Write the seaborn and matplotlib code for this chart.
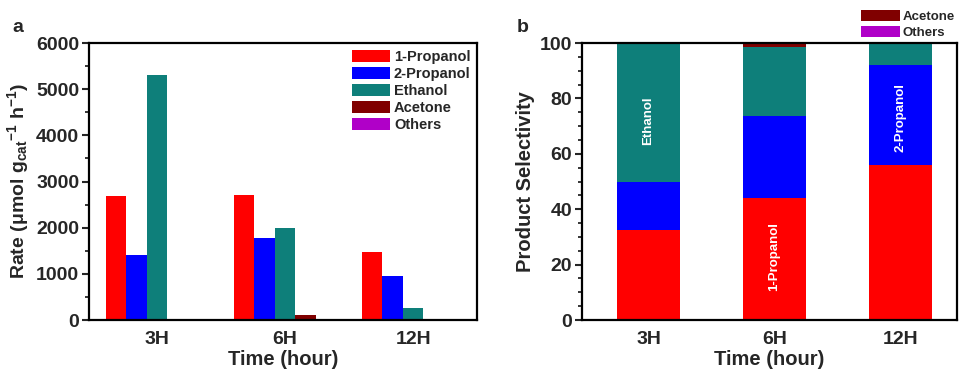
import matplotlib
matplotlib.use("Agg")
import matplotlib.pyplot as plt
import seaborn as sns
import pandas as pd
from matplotlib.ticker import MultipleLocator
from matplotlib.patches import Patch

# ---------------- data ----------------
times = ["3H", "6H", "12H"]
products = ["1-Propanol", "2-Propanol", "Ethanol", "Acetone", "Others"]
colors = ["#FF0000", "#0000FF", "#0E7F7A", "#800000", "#B000C8"]

rate_propanol1 = [2680, 2700, 1470]
rate_propanol2 = [1400, 1780, 960]
rate_ethanol = [5300, 2000, 250]
rate_acetone = [20, 100, 0]
rate_others = [0, 0, 0]

sel_propanol1 = [32.5, 44.0, 56.0]
sel_propanol2 = [17.5, 29.5, 36.0]
sel_ethanol = [50.0, 25.0, 8.0]
sel_acetone = [0.0, 1.5, 0.0]
sel_others = [0.0, 0.0, 0.0]

rates = [rate_propanol1, rate_propanol2, rate_ethanol, rate_acetone, rate_others]
sels = [sel_propanol1, sel_propanol2, sel_ethanol, sel_acetone, sel_others]

df_rate = pd.DataFrame([
    {"time": t, "product": p, "rate": v}
    for p, vals in zip(products, rates) for t, v in zip(times, vals)
])

# ---------------- style ----------------
sns.set_theme(style="ticks")
plt.rcParams["font.family"] = ["Liberation Sans", "DejaVu Sans"]
plt.rcParams["font.weight"] = "bold"
plt.rcParams["axes.labelweight"] = "bold"
plt.rcParams["mathtext.fontset"] = "custom"
plt.rcParams["mathtext.rm"] = "Liberation Sans:bold"
plt.rcParams["mathtext.it"] = "Liberation Sans:bold"
plt.rcParams["mathtext.bf"] = "Liberation Sans:bold"

fig = plt.figure(figsize=(9.6, 3.81), dpi=100)
axL = fig.add_axes([0.0927, 0.160, 0.4043, 0.727])
axR = fig.add_axes([0.606, 0.160, 0.391, 0.727])

# ---------------- panel a ----------------
sns.barplot(data=df_rate, x="time", y="rate", hue="product", order=times,
            hue_order=products, palette=colors, saturation=1, width=0.8,
            errorbar=None, ax=axL, linewidth=0)
axL.set_xlim(-0.53, 2.50)
axL.set_ylim(0, 6000)
axL.yaxis.set_major_locator(MultipleLocator(1000))
axL.yaxis.set_minor_locator(MultipleLocator(500))
axL.set_xlabel("Time (hour)", fontsize=14.5, fontweight="bold", labelpad=1)
axL.set_ylabel(r"Rate (μmol g$_{\mathbf{cat}}$$^{\mathbf{-1}}$ h$^{\mathbf{-1}}$)",
               fontsize=14, fontweight="bold", labelpad=4)
handles = [Patch(facecolor=c, edgecolor="none") for c in colors]
axL.legend(handles, products, loc="upper right", frameon=False,
           prop={"size": 10.5, "weight": "bold"}, handlelength=2.6,
           handleheight=0.9, handletextpad=0.25, labelspacing=0.2,
           borderaxespad=0.15, borderpad=0.3)

# ---------------- panel b ----------------
cum = []
running = [0.0, 0.0, 0.0]
for vals in sels:
    running = [r + v for r, v in zip(running, vals)]
    cum.append(list(running))
# draw from the top of the stack down so the lower segments stay visible
for i in range(len(products) - 1, -1, -1):
    d = pd.DataFrame({"time": times, "value": cum[i]})
    sns.barplot(data=d, x="time", y="value", order=times, color=colors[i],
                saturation=1, width=0.5, errorbar=None, ax=axR, linewidth=0)
axR.set_xlim(-0.53, 2.45)
axR.set_ylim(0, 100)
axR.yaxis.set_major_locator(MultipleLocator(20))
axR.yaxis.set_minor_locator(MultipleLocator(5))
axR.set_xlabel("Time (hour)", fontsize=14.5, fontweight="bold", labelpad=1)
axR.set_ylabel("Product Selectivity", fontsize=14.5, fontweight="bold",
               labelpad=3)

# in-bar labels
for x, y, s in [(0, 72, "Ethanol"), (1, 23, "1-Propanol"), (2, 73, "2-Propanol")]:
    axR.text(x, y, s, rotation=90, color="white", fontsize=9.5,
             fontweight="bold", ha="center", va="center")

handlesR = [Patch(facecolor=colors[3], edgecolor="none"),
            Patch(facecolor=colors[4], edgecolor="none")]
axR.legend(handlesR, products[3:], loc="lower left",
           bbox_to_anchor=(0.74, 1.01), frameon=False,
           prop={"size": 9.5, "weight": "bold"}, handlelength=3.0,
           handleheight=0.9, handletextpad=0.15, labelspacing=0.25,
           borderaxespad=0.0, borderpad=0.1)

for ax in (axL, axR):
    for s in ax.spines.values():
        s.set_visible(True)
        s.set_linewidth(1.6)
        s.set_color("black")
    ax.tick_params(axis="x", length=0, labelsize=14, pad=8)
    ax.tick_params(axis="y", which="major", direction="out", length=5,
                   width=1.5, labelsize=14, pad=2)
    ax.tick_params(axis="y", which="minor", direction="out", length=3,
                   width=1.3)
    for lab in ax.get_xticklabels() + ax.get_yticklabels():
        lab.set_fontweight("bold")
    ax.set_facecolor("white")

fig.text(0.013, 0.915, "a", fontsize=14, fontweight="bold")
fig.text(0.538, 0.915, "b", fontsize=14, fontweight="bold")

fig.savefig("out.png", dpi=100)
